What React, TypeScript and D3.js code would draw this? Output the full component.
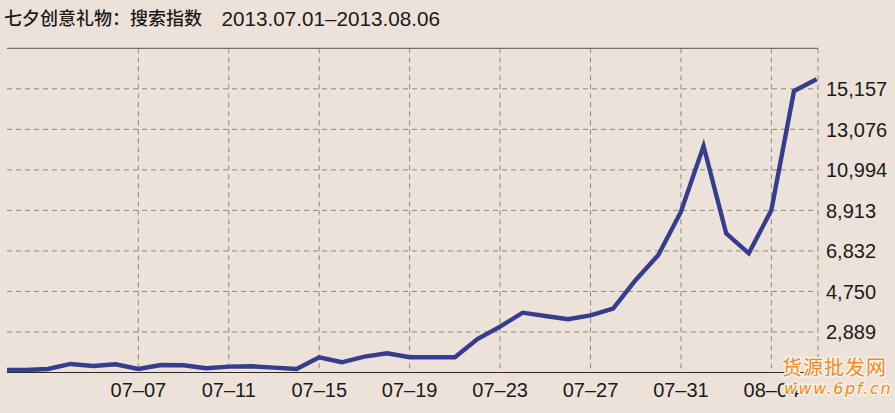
import React from 'react';
import * as d3 from 'd3';

const days = [
  '07-01','07-02','07-03','07-04','07-05','07-06','07-07','07-08','07-09','07-10',
  '07-11','07-12','07-13','07-14','07-15','07-16','07-17','07-18','07-19','07-20',
  '07-21','07-22','07-23','07-24','07-25','07-26','07-27','07-28','07-29','07-30',
  '07-31','08-01','08-02','08-03','08-04','08-05','08-06',
];

const searchIndex = [
  717, 717, 769, 1025, 923, 1010, 769, 974, 959, 805,
  887, 907, 835, 769, 1370, 1113, 1400, 1575, 1370, 1370,
  1370, 2309, 2941, 3660, 3490, 3320, 3516, 3865, 5339, 6623,
  8846, 12220, 7737, 6710, 8933, 15044, 15645,
];

const xTickLabels = ['07-07', '07-11', '07-15', '07-19', '07-23', '07-27', '07-31', '08-04'];
const yTickLabels = [2889, 4750, 6832, 8913, 10994, 13076, 15157];

const titleCN = '七夕创意礼物：搜索指数';
const titleDate = '2013.07.01–2013.08.06';

const W = 895;
const H = 413;
const plotLeft = 7;
const plotRight = 818;
const plotTop = 48.3;
const plotBottom = 372.5;

export default function App() {
  const x = d3.scaleLinear().domain([0, days.length - 1]).range([2.7, 816.6]);
  const top = yTickLabels[yTickLabels.length - 1];
  const step = (top - yTickLabels[1]) / (yTickLabels.length - 2);
  const y = d3.scaleLinear().domain([top - yTickLabels.length * step, top + step]).range([plotBottom, plotTop]);
  const tickPos = yTickLabels.map((_, i) => top - (yTickLabels.length - 1 - i) * step);
  const line = d3.line<number>().x((_, i) => x(i)).y((d) => y(d));
  const fmt = d3.format(',');
  const axisFont = '"Liberation Sans", Arial, Helvetica, sans-serif';
  const grid = '#8d8782';

  return (
    <svg width={W} height={H} style={{ position: 'fixed', left: 0, top: 0 }}>
      <defs>
        <clipPath id="plotclip">
          <rect x={plotLeft} y={0} width={plotRight - plotLeft + 2} height={H} />
        </clipPath>
      </defs>
      <rect x={0} y={0} width={W} height={H} fill="#ede2d9" />
      {tickPos.map((v, i) => (
        <line key={'h' + i} x1={plotLeft} x2={plotRight} y1={y(v)} y2={y(v)} stroke={grid} strokeWidth={1} strokeDasharray="5,4" />
      ))}
      {xTickLabels.map((lab) => {
        const xi = x(days.indexOf(lab));
        return <line key={'v' + lab} x1={xi} x2={xi} y1={plotTop} y2={plotBottom} stroke={grid} strokeWidth={1} strokeDasharray="5,4" />;
      })}
      <line x1={plotRight} x2={plotRight} y1={plotTop} y2={plotBottom} stroke={grid} strokeWidth={1} strokeDasharray="5,4" />
      <line x1={plotLeft} x2={plotRight} y1={plotTop} y2={plotTop} stroke="#77716c" strokeWidth={1.2} />
      <line x1={plotLeft} x2={plotRight} y1={plotBottom} y2={plotBottom} stroke="#2b2826" strokeWidth={1.2} />
      <path d={line(searchIndex) || ''} fill="none" stroke="#363d8d" strokeWidth={4.4} strokeLinejoin="miter" clipPath="url(#plotclip)" />
      {tickPos.map((v, i) => (
        <text key={'yl' + i} x={826} y={y(v)} dy="0.36em" fontFamily={axisFont} fontSize={20} fill="#1a1a1a">
          {fmt(yTickLabels[i])}
        </text>
      ))}
      {xTickLabels.map((lab) => (
        <text key={'xl' + lab} x={x(days.indexOf(lab))} y={397} textAnchor="middle" fontFamily={axisFont} fontSize={20} fill="#1a1a1a">
          {lab.replace('-', '–')}
        </text>
      ))}
      <text x={4} y={25} fill="#1a1a1a" fontFamily='"Noto Sans CJK SC", sans-serif' fontSize={18} fontWeight={500}>
        {titleCN}
      </text>
      <text x={221.5} y={26} fontFamily={axisFont} fontSize={20.7} fill="#1a1a1a">{titleDate}</text>
      <g fill="#f28a1e" stroke="#fbf4ee" strokeWidth={3} style={{ paintOrder: 'stroke' }} strokeLinejoin="round">
        <text x={782} y={375} fontFamily='"Noto Sans CJK SC", sans-serif' fontSize={20} letterSpacing={1}>货源批发网</text>
        <text x={784} y={394} fontFamily='"DejaVu Sans", sans-serif' fontSize={16} fontStyle="italic" letterSpacing={1.5}>www.6pf.cn</text>
      </g>
    </svg>
  );
}
